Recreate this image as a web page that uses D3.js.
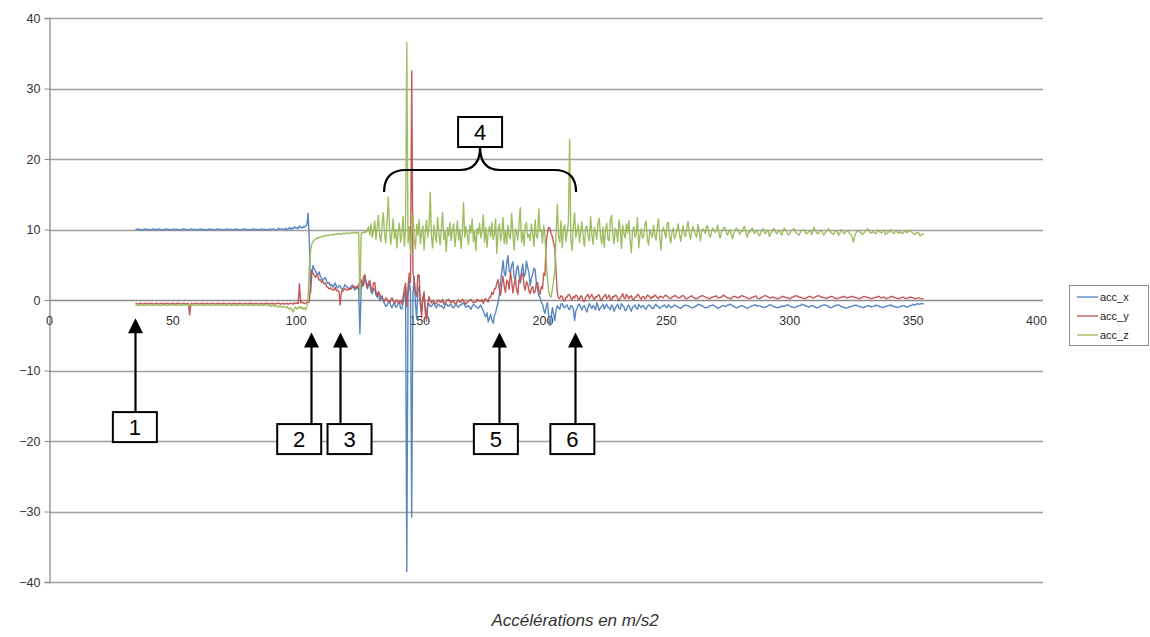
<!DOCTYPE html>
<html>
<head>
<meta charset="utf-8">
<script src="https://cdn.jsdelivr.net/npm/d3@7"></script>
<style>
  html, body { margin: 0; padding: 0; background: #fff; }
  svg { display: block; font-family: "Liberation Sans", Arial, sans-serif; }
</style>
</head>
<body>
<svg id="chart" width="1150" height="637"></svg>
<script>
// Sampling: two readings per time unit, starting at t = 35
const startTime = 35;
const timeStep = 0.5;

const accX = [
  10.0,10.0,10.1,10.0,10.0,9.9,10.0,10.0,10.1,10.0,10.0,10.0,9.9,10.0,10.1,10.0,10.0,10.0,10.0,10.1,
  10.0,10.0,9.9,10.0,10.0,10.1,10.0,10.0,10.0,9.9,10.0,10.1,10.0,10.0,10.0,10.0,9.9,10.0,10.0,10.1,
  10.0,10.0,10.0,9.9,10.0,10.1,10.0,10.0,10.0,10.0,9.9,10.0,10.0,10.1,10.0,10.0,10.0,9.9,10.0,10.0,
  10.1,10.0,10.0,10.0,9.9,10.0,10.0,10.1,10.0,10.0,10.0,10.0,9.9,10.0,10.1,10.0,10.0,10.0,10.0,9.9,
  10.0,10.1,10.0,10.0,10.0,9.9,10.0,10.0,10.1,10.0,10.0,10.0,10.0,9.9,10.0,10.1,10.0,10.0,10.0,10.0,
  9.9,10.0,10.1,10.0,10.0,10.0,10.0,9.9,10.0,10.1,10.0,10.0,10.1,10.0,9.9,10.0,10.2,10.0,10.1,10.0,
  10.1,10.0,10.2,9.9,10.1,10.3,10.0,10.2,10.1,10.4,10.2,10.3,10.1,10.5,10.3,10.2,10.4,10.3,10.5,10.6,
  12.3,8.5,1.0,3.6,4.9,4.4,4.1,3.7,3.6,4.0,3.3,3.1,2.8,3.0,3.2,2.7,2.3,2.5,2.0,2.2,
  1.8,2.1,2.4,1.9,1.7,2.0,2.0,1.6,1.5,1.8,2.2,1.9,1.8,1.5,1.6,2.0,2.1,1.7,1.4,1.8,
  1.9,1.6,-4.8,1.5,2.5,2.0,3.2,2.4,1.6,2.1,2.3,1.2,0.9,1.6,1.5,0.7,0.4,0.9,-0.1,0.3,
  0.6,-0.2,-0.5,-0.9,-0.8,-0.3,-0.2,-0.8,-1.1,-0.6,-0.4,-1.0,-0.9,-0.5,-0.3,-1.2,-1.3,-0.4,0.6,1.8,
  -38.5,0.5,2.6,1.2,-30.8,0.8,3.3,-0.5,-2.7,1.4,1.9,-0.6,-1.6,0.3,0.5,-1.2,-2.2,-0.8,-0.5,-0.9,
  -0.9,-0.6,-0.4,-0.8,-1.1,-0.7,-0.6,-0.9,-0.8,-1.0,-1.2,-0.7,-0.5,-0.8,-0.9,-0.6,-0.7,-1.0,-1.1,-0.8,
  -0.6,-0.9,-1.0,-0.7,-0.7,-0.5,-0.4,-0.8,-1.0,-0.9,-0.8,-1.1,-1.3,-0.9,-0.6,-0.8,-0.9,-1.1,-1.2,-0.9,
  -0.7,-1.2,-1.5,-2.1,-2.4,-1.8,-3.1,-2.6,-2.0,-2.9,-3.3,-2.2,-1.8,-1.0,-0.4,0.8,2.6,4.0,5.6,3.8,
  3.4,5.2,6.3,4.1,3.9,5.0,5.4,3.2,2.9,4.4,4.9,3.6,2.4,4.1,5.1,3.3,3.7,5.5,4.6,3.9,
  2.0,3.1,3.6,4.5,4.3,2.4,1.5,0.6,0.4,-0.3,-0.6,-1.4,-1.9,-0.9,-0.4,-2.2,-3.6,-2.5,-1.1,-2.0,
  -2.9,-1.5,-0.8,-1.1,-1.3,-0.6,-0.5,-1.0,-1.1,-0.8,-0.7,-1.2,-1.4,-0.8,-0.9,-1.3,-2.9,-1.6,-1.2,-0.7,
  -0.6,-1.1,-1.4,-0.9,-0.8,-1.3,-1.7,-1.0,-0.5,-0.9,-1.2,-0.8,-1.0,-1.4,-0.4,-0.8,-1.5,-1.1,-0.9,-0.6,
  -1.3,-0.9,-0.6,-1.0,-1.1,-1.4,-0.7,-0.9,-1.6,-1.2,-0.8,-0.6,-1.2,-1.3,-0.5,-0.8,-1.0,-1.5,-1.4,-0.9,
  -0.7,-1.2,-1.6,-1.0,-0.9,-0.7,-1.2,-1.3,-0.6,-0.9,-1.1,-0.8,-0.8,-1.2,-1.3,-0.9,-0.7,-0.8,-1.0,-1.2,
  -1.2,-0.8,-0.6,-0.9,-0.9,-1.2,-1.1,-0.9,-0.8,-0.7,-1.0,-1.1,-0.7,-0.8,-1.1,-1.0,-0.9,-0.7,-0.8,-0.9,
  -1.0,-1.1,-1.2,-1.0,-0.9,-0.8,-0.7,-0.8,-0.8,-0.9,-1.0,-1.1,-1.1,-1.0,-0.9,-0.8,-0.6,-0.7,-0.7,-0.8,
  -0.9,-1.0,-1.1,-1.1,-1.0,-0.9,-0.8,-0.8,-0.7,-0.8,-0.9,-1.0,-1.2,-1.1,-1.0,-0.9,-0.8,-0.8,-0.9,-0.9,
  -0.7,-0.7,-0.6,-0.7,-0.8,-0.9,-1.0,-1.1,-1.1,-1.0,-0.9,-0.8,-0.8,-0.9,-1.0,-1.1,-1.2,-1.1,-1.0,-0.9,
  -0.8,-0.8,-0.7,-0.7,-0.9,-0.8,-0.8,-0.9,-1.0,-1.0,-1.1,-1.0,-0.9,-0.8,-0.7,-0.7,-0.8,-0.9,-1.0,-1.0,
  -1.1,-1.1,-1.0,-1.0,-0.8,-0.9,-0.9,-0.8,-0.7,-0.7,-0.8,-0.9,-1.0,-1.0,-1.1,-1.0,-0.9,-0.9,-0.8,-0.8,
  -0.6,-0.7,-0.7,-0.8,-0.9,-0.9,-1.0,-0.9,-0.8,-0.8,-0.9,-1.0,-1.1,-1.1,-1.0,-0.9,-0.8,-0.8,-0.7,-0.7,
  -0.8,-0.8,-1.0,-1.0,-1.1,-1.0,-0.9,-0.8,-0.8,-0.7,-0.7,-0.8,-0.9,-1.0,-1.0,-1.1,-1.2,-1.1,-1.0,-1.0,
  -0.9,-0.9,-0.8,-0.8,-0.7,-0.8,-0.9,-0.9,-1.0,-1.0,-1.1,-1.0,-0.9,-0.9,-0.8,-0.8,-1.0,-0.9,-0.9,-0.9,
  -0.7,-0.8,-0.8,-0.9,-1.0,-1.0,-1.1,-1.0,-0.9,-0.9,-0.8,-0.8,-0.7,-0.8,-0.9,-0.9,-1.0,-1.0,-1.1,-1.0,
  -0.9,-0.9,-0.8,-0.8,-0.9,-1.0,-1.0,-0.9,-0.8,-0.8,-0.6,-0.7,-0.7,-0.6,-0.5,-0.6,-0.6,-0.5,-0.5,-0.6
];

const accY = [
  -0.5,-0.5,-0.6,-0.5,-0.5,-0.5,-0.6,-0.5,-0.5,-0.5,-0.6,-0.5,-0.5,-0.5,-0.5,-0.6,-0.5,-0.5,-0.5,-0.6,
  -0.5,-0.5,-0.5,-0.6,-0.5,-0.5,-0.5,-0.5,-0.6,-0.5,-0.5,-0.5,-0.6,-0.5,-0.5,-0.5,-0.5,-0.6,-0.5,-0.5,
  -0.5,-0.6,-0.5,-0.5,-2.1,-0.5,-0.5,-0.6,-0.5,-0.5,-0.5,-0.5,-0.6,-0.5,-0.5,-0.5,-0.6,-0.5,-0.5,-0.5,
  -0.6,-0.5,-0.5,-0.5,-0.5,-0.6,-0.5,-0.5,-0.5,-0.6,-0.5,-0.5,-0.5,-0.5,-0.6,-0.5,-0.5,-0.5,-0.6,-0.5,
  -0.5,-0.5,-0.6,-0.5,-0.5,-0.5,-0.5,-0.6,-0.5,-0.5,-0.5,-0.6,-0.5,-0.5,-0.5,-0.5,-0.6,-0.5,-0.5,-0.5,
  -0.6,-0.5,-0.5,-0.5,-0.6,-0.5,-0.5,-0.5,-0.5,-0.6,-0.5,-0.5,-0.5,-0.6,-0.5,-0.5,-0.5,-0.5,-0.6,-0.5,
  -0.5,-0.6,-0.5,-0.5,-0.6,-0.5,-0.5,-0.5,-0.6,-0.4,-0.5,-0.4,-0.5,2.3,-0.4,-0.3,-0.4,-0.5,-0.4,-0.3,
  -0.4,-0.2,2.1,4.3,3.8,3.5,3.2,3.6,3.3,2.8,2.9,2.5,2.7,2.3,2.4,1.9,1.8,1.6,1.7,1.5,
  1.5,1.4,1.8,1.3,1.4,1.2,-0.7,1.3,1.2,1.5,1.6,1.4,1.4,1.7,1.5,1.6,1.8,2.0,1.7,1.9,
  1.6,2.2,2.4,2.9,2.0,3.3,3.6,2.6,1.8,2.5,2.8,1.7,1.2,2.4,2.5,1.1,0.6,1.2,0.9,0.4,
  0.2,0.0,-0.2,0.3,0.1,-0.2,-0.4,0.0,0.3,-0.1,-0.5,-0.2,0.0,-0.4,-0.3,-0.1,-0.6,0.4,1.5,2.4,
  -1.0,1.8,3.8,2.5,32.5,3.9,2.8,1.1,0.5,3.6,3.5,-0.4,-2.5,0.3,1.2,-1.8,-3.0,-0.6,0.5,-0.2,
  -0.4,-0.1,-0.2,-0.5,-0.5,-0.2,0.0,-0.3,-0.3,0.1,-0.6,-0.4,-0.2,0.0,0.1,-0.3,-0.4,-0.1,-0.2,-0.5,
  -0.5,-0.2,0.0,-0.3,-0.3,0.1,-0.1,-0.4,-0.6,-0.3,-0.2,0.0,0.1,-0.2,-0.4,-0.3,-0.3,0.1,0.0,-0.2,
  -0.2,0.1,-0.5,0.0,0.2,-0.1,-0.3,0.4,0.4,1.1,0.8,1.6,1.6,2.4,2.9,1.5,0.7,2.2,3.4,1.9,
  1.1,2.8,2.6,1.5,4.0,2.7,1.0,2.2,3.1,1.4,0.8,2.9,2.7,3.6,3.8,2.0,1.4,2.6,2.3,1.3,
  0.9,1.7,1.9,1.0,1.2,2.3,2.5,1.4,0.8,1.9,1.6,3.8,3.5,8.2,9.5,10.3,10.2,9.4,9.0,8.1,
  7.4,4.0,1.0,0.3,0.2,0.6,0.5,-0.1,-0.1,0.4,0.4,0.8,0.7,0.2,0.0,0.5,0.3,0.7,0.6,0.1,
  0.1,0.6,0.5,-0.2,-0.2,0.4,0.6,0.8,0.2,0.5,0.8,0.3,0.0,0.5,0.4,0.7,0.7,0.1,-0.1,0.4,
  0.5,0.8,0.2,0.4,0.7,0.1,0.0,0.5,0.4,0.7,0.6,0.2,-0.1,0.3,0.5,0.9,0.3,0.2,0.8,0.5,
  0.2,0.5,0.6,0.1,0.0,0.4,0.4,0.8,0.7,0.3,0.1,0.5,0.5,0.2,0.3,0.7,0.6,0.4,0.2,0.5,
  0.4,0.7,0.6,0.3,0.2,0.5,0.5,0.4,0.3,0.6,0.7,0.5,0.4,0.2,0.2,0.4,0.5,0.6,0.6,0.4,
  0.3,0.3,0.4,0.6,0.6,0.5,0.2,0.2,0.3,0.4,0.5,0.6,0.4,0.3,0.2,0.2,0.3,0.4,0.5,0.6,
  0.6,0.5,0.4,0.3,0.3,0.2,0.2,0.4,0.4,0.5,0.5,0.6,0.3,0.3,0.4,0.4,0.6,0.7,0.5,0.4,
  0.3,0.3,0.2,0.2,0.4,0.5,0.5,0.4,0.3,0.4,0.4,0.6,0.6,0.5,0.5,0.3,0.3,0.2,0.2,0.3,
  0.4,0.4,0.5,0.6,0.3,0.2,0.2,0.3,0.4,0.5,0.6,0.6,0.5,0.4,0.3,0.3,0.4,0.4,0.3,0.3,
  0.2,0.2,0.3,0.3,0.5,0.5,0.4,0.4,0.3,0.3,0.2,0.2,0.4,0.4,0.5,0.6,0.6,0.5,0.4,0.4,
  0.3,0.3,0.2,0.2,0.3,0.4,0.5,0.5,0.4,0.3,0.3,0.4,0.5,0.6,0.6,0.5,0.4,0.4,0.3,0.3,
  0.2,0.3,0.4,0.4,0.5,0.5,0.3,0.3,0.2,0.2,0.3,0.3,0.4,0.4,0.5,0.5,0.3,0.3,0.4,0.4,
  0.5,0.5,0.4,0.4,0.3,0.3,0.2,0.2,0.3,0.3,0.5,0.5,0.4,0.4,0.3,0.3,0.2,0.2,0.3,0.3,
  0.4,0.4,0.5,0.5,0.3,0.3,0.4,0.4,0.2,0.2,0.3,0.3,0.5,0.5,0.4,0.4,0.3,0.3,0.2,0.2,
  0.3,0.3,0.4,0.4,0.2,0.2,0.3,0.3,0.4,0.4,0.3,0.3,0.2,0.2,0.3,0.3,0.2,0.2,0.2,0.2
];

const accZ = [
  -0.7,-0.7,-0.7,-0.8,-0.7,-0.7,-0.7,-0.7,-0.8,-0.7,-0.7,-0.7,-0.7,-0.7,-0.8,-0.7,-0.7,-0.7,-0.7,-0.7,
  -0.8,-0.7,-0.7,-0.7,-0.7,-0.7,-0.8,-0.7,-0.7,-0.7,-0.7,-0.7,-0.7,-0.8,-0.7,-0.7,-0.7,-0.7,-0.8,-0.7,
  -0.7,-0.7,-0.7,-0.7,-0.8,-0.7,-0.7,-0.7,-0.7,-0.7,-0.8,-0.7,-0.7,-0.7,-0.7,-0.8,-0.7,-0.7,-0.7,-0.7,
  -0.7,-0.8,-0.7,-0.7,-0.7,-0.7,-0.7,-0.8,-0.7,-0.7,-0.7,-0.7,-0.8,-0.7,-0.7,-0.7,-0.7,-0.7,-0.8,-0.7,
  -0.7,-0.7,-0.8,-0.7,-0.7,-0.7,-0.7,-0.7,-0.8,-0.7,-0.7,-0.7,-0.8,-0.7,-0.7,-0.7,-0.8,-0.7,-0.7,-0.7,
  -0.7,-0.8,-0.7,-0.7,-0.8,-0.7,-0.7,-0.8,-0.7,-0.8,-0.9,-0.7,-0.8,-0.9,-0.8,-0.9,-1.0,-0.8,-0.9,-1.0,
  -0.9,-1.0,-1.1,-0.9,-1.2,-1.3,-1.1,-1.5,-1.7,-1.2,-1.0,-1.3,-1.1,-0.9,-1.2,-1.0,-1.3,-1.1,-1.4,-0.9,
  0.2,4.5,7.0,7.9,8.3,8.5,8.6,8.8,8.7,8.9,8.9,9.0,9.1,9.0,9.1,9.2,9.1,9.2,9.2,9.3,
  9.2,9.3,9.3,9.4,9.3,9.4,9.4,9.3,9.4,9.5,9.4,9.5,9.5,9.4,9.5,9.5,9.6,9.5,9.5,9.6,
  9.5,9.6,0.4,9.5,9.6,9.5,9.7,9.6,9.8,10.4,9.2,10.8,8.9,9.7,11.2,8.6,10.3,12.0,9.1,8.3,
  10.6,12.4,9.2,8.1,11.0,14.6,10.2,7.9,9.6,11.5,8.7,10.0,7.4,9.8,10.9,8.2,9.4,11.8,7.6,9.9,
  36.5,8.1,10.4,6.6,9.5,12.3,8.8,7.3,10.7,9.2,11.4,8.0,9.6,10.5,7.1,9.8,11.3,8.9,10.2,15.3,
  9.0,7.4,10.6,9.3,8.2,11.7,9.5,7.8,10.1,12.4,8.6,9.7,6.8,10.3,9.1,11.0,8.4,9.9,10.8,7.6,
  9.4,11.2,8.5,10.0,7.3,9.6,13.8,8.9,10.4,9.2,7.9,10.6,9.5,11.5,8.3,9.8,7.0,10.2,9.4,10.9,
  8.8,9.6,12.1,8.2,10.3,7.5,9.7,10.4,9.0,11.0,8.6,9.3,11.5,6.6,9.9,10.8,8.4,9.5,11.7,8.0,
  9.8,7.9,10.6,9.1,8.7,12.3,9.4,7.1,10.1,9.6,8.5,10.9,13.1,8.2,9.7,7.7,10.5,11.0,8.9,9.3,
  8.4,10.8,9.5,7.6,11.4,9.0,8.8,12.9,9.7,10.0,8.1,10.6,9.2,5.5,3.2,1.2,0.6,0.4,1.5,2.8,
  4.0,9.5,13.5,9.1,8.2,11.2,7.4,10.1,10.6,8.3,9.6,11.0,22.8,8.5,7.0,10.4,12.4,8.9,9.8,10.7,
  8.2,9.7,11.1,8.8,7.6,10.3,10.5,9.0,8.4,11.8,9.3,7.9,10.3,9.6,8.6,10.9,11.6,9.1,8.0,10.4,
  7.5,9.8,10.9,8.7,8.4,11.4,12.0,9.2,8.0,10.2,9.6,8.3,11.4,9.9,7.3,10.6,9.4,8.8,10.8,9.5,
  11.3,8.4,6.7,9.9,10.4,8.9,9.5,11.7,7.4,9.2,10.1,8.8,9.0,10.7,11.2,8.6,7.8,10.0,9.4,8.9,
  10.6,9.3,8.5,10.2,11.5,9.0,7.1,9.8,10.3,9.5,8.8,10.9,11.0,9.1,8.1,9.7,10.2,8.7,9.2,10.0,
  10.8,9.4,8.3,9.6,10.5,9.2,9.0,10.3,11.1,9.5,8.6,9.8,10.4,9.7,9.3,8.9,10.7,9.9,8.4,9.6,
  10.1,9.8,9.4,10.5,10.5,9.2,8.9,9.7,10.2,9.9,9.6,10.0,10.6,9.4,8.8,9.6,9.9,10.3,10.3,9.5,
  9.2,9.8,10.0,9.3,8.7,9.5,9.8,10.2,10.1,9.6,9.3,9.8,9.7,10.3,10.4,9.4,8.9,9.7,9.6,9.9,
  10.2,9.7,9.4,9.9,9.8,9.3,9.1,9.6,10.0,10.1,9.5,9.4,9.9,9.7,9.0,9.5,9.7,10.1,10.1,9.6,
  9.4,9.7,9.8,9.5,9.2,9.8,10.2,9.9,9.6,9.3,9.3,9.7,9.9,10.0,10.1,9.6,9.5,9.3,9.2,9.6,
  9.8,9.9,10.0,9.6,9.4,9.5,9.7,9.9,9.3,9.6,10.3,9.9,9.6,9.4,9.5,9.8,9.9,9.5,9.2,9.5,
  9.7,9.9,10.1,9.8,9.5,9.4,9.3,9.7,9.8,9.6,9.2,9.5,10.0,9.8,9.4,9.5,9.7,9.8,9.7,9.4,
  9.3,8.9,8.2,9.0,9.5,9.7,9.9,9.6,9.6,9.3,9.4,9.6,9.8,10.0,10.1,9.7,9.5,9.6,9.7,9.5,
  9.4,9.6,9.9,9.7,9.6,9.5,9.8,9.9,9.3,9.4,9.7,9.6,10.0,9.8,9.5,9.4,9.8,9.7,9.6,9.5,
  9.7,9.5,9.4,9.7,9.8,9.6,9.6,9.8,9.9,9.7,9.5,9.4,9.3,9.5,9.6,9.5,9.1,9.2,9.4,9.3
];

const seriesNames = ["acc_x", "acc_y", "acc_z"];
const seriesColors = ["#4f81bd", "#c0504d", "#9bbb59"];
const xTicks = [0, 50, 100, 150, 200, 250, 300, 350, 400];
const yTicks = [-40, -30, -20, -10, 0, 10, 20, 30, 40];
const chartTitle = "Accélérations en m/s2";

// Numbered callouts: label, time of the pointed event, arrow tip / box top (m/s2), box centre time
const callouts = [
  { label: "1", t: 34.8,  tip: -2.6, boxTop: -15.9, boxT: 34.8 },
  { label: "2", t: 106.2, tip: -4.6, boxTop: -17.6, boxT: 101.4 },
  { label: "3", t: 117.9, tip: -4.6, boxTop: -17.6, boxT: 121.8 },
  { label: "5", t: 182.3, tip: -4.6, boxTop: -17.6, boxT: 181.1 },
  { label: "6", t: 213.2, tip: -4.6, boxTop: -17.6, boxT: 212.1 }
];
// Brace grouping the phase labelled 4
const braceLabel = "4";
const braceSpan = [135.8, 213.6];

const svg = d3.select("#chart");

const x = d3.scaleLinear().domain([0, 400]).range([49, 1036]);
const y = d3.scaleLinear().domain([-40, 40]).range([582, 18]);

// Horizontal gridlines
svg.append("g")
  .selectAll("line")
  .data(yTicks.filter(v => v !== 0))
  .join("line")
  .attr("x1", x(0)).attr("x2", 1043)
  .attr("y1", d => Math.round(y(d)) + 0.5).attr("y2", d => Math.round(y(d)) + 0.5)
  .attr("stroke", "#a0a0a0").attr("stroke-width", 1.3);

// Y axis
const yAxis = svg.append("g")
  .attr("transform", `translate(${x(0) + 0.5},0)`)
  .call(d3.axisLeft(y).tickValues(yTicks).tickSize(5).tickPadding(4).tickFormat(d3.format("d")));
yAxis.select(".domain").attr("stroke", "#8c8c8c").attr("stroke-width", 1.3);
yAxis.selectAll(".tick line").attr("stroke", "#8c8c8c");
yAxis.selectAll(".tick text")
  .attr("fill", "#333").style("font-size", "12.5px")
  .style("font-family", "'Liberation Sans', Arial, sans-serif");

// X axis drawn along zero
const xAxis = svg.append("g")
  .attr("transform", `translate(0,${Math.round(y(0)) + 0.5})`)
  .call(d3.axisBottom(x).tickValues(xTicks).tickSize(0).tickPadding(16).tickFormat(d3.format("d")));
xAxis.select(".domain").attr("stroke", "#8c8c8c").attr("stroke-width", 1.3)
  .attr("d", `M${x(0)},0H1043`);
xAxis.selectAll(".tick text")
  .attr("fill", "#333").style("font-size", "12.5px")
  .style("font-family", "'Liberation Sans', Arial, sans-serif");

// Series lines, acc_z drawn last so it sits on top
const seriesValues = [accX, accY, accZ];
const line = d3.line()
  .x((d, i) => x(startTime + i * timeStep))
  .y(d => y(d));

seriesValues.forEach((vals, k) => {
  svg.append("path")
    .datum(vals)
    .attr("d", line)
    .attr("fill", "none")
    .attr("stroke", seriesColors[k])
    .attr("stroke-width", 1.4)
    .attr("stroke-linejoin", "round")
    .attr("opacity", 0.95);
});

// Legend
const legend = svg.append("g").attr("transform", "translate(1069,285)");
legend.append("rect")
  .attr("x", 0.5).attr("y", 0.5).attr("width", 79).attr("height", 60)
  .attr("fill", "#fff").attr("stroke", "#8c8c8c");
seriesNames.forEach((name, k) => {
  const ly = 12 + k * 19;
  legend.append("line")
    .attr("x1", 8).attr("x2", 29).attr("y1", ly).attr("y2", ly)
    .attr("stroke", seriesColors[k]).attr("stroke-width", 1.3);
  legend.append("text")
    .attr("x", 31).attr("y", ly + 4)
    .attr("fill", "#222").style("font-size", "11px")
    .text(name);
});

// Title below the plot
svg.append("text")
  .attr("x", 575).attr("y", 626)
  .attr("text-anchor", "middle")
  .attr("fill", "#333")
  .style("font-size", "17px").style("font-style", "italic")
  .text(chartTitle);

// Callout arrows and numbered boxes
const ann = svg.append("g");
const boxW = 44, boxH = 30;
callouts.forEach(c => {
  const ax = Math.round(x(c.t)) + 0.5;
  const tipY = y(c.tip);
  const bTop = y(c.boxTop);
  ann.append("line")
    .attr("x1", ax).attr("x2", ax)
    .attr("y1", tipY + 12).attr("y2", bTop)
    .attr("stroke", "#000").attr("stroke-width", 2.2);
  ann.append("path")
    .attr("d", `M${ax},${tipY} L${ax - 7.5},${tipY + 15} L${ax + 7.5},${tipY + 15} Z`)
    .attr("fill", "#000");
  const bx = x(c.boxT);
  ann.append("rect")
    .attr("x", bx - boxW / 2).attr("y", bTop)
    .attr("width", boxW).attr("height", boxH)
    .attr("fill", "#fff").attr("stroke", "#000").attr("stroke-width", 2);
  ann.append("text")
    .attr("x", bx).attr("y", bTop + boxH / 2 + 8)
    .attr("text-anchor", "middle")
    .attr("fill", "#000").style("font-size", "22px")
    .text(c.label);
});

// Brace for phase 4
const b0 = x(braceSpan[0]), b1 = x(braceSpan[1]);
const bm = (b0 + b1) / 2;
const bTopY = 147, bMidY = 170, bEndY = 192;
ann.append("path")
  .attr("d", `M${b0},${bEndY} Q${b0},${bMidY} ${b0 + 22},${bMidY} L${bm - 20},${bMidY} Q${bm},${bMidY} ${bm},${bTopY} Q${bm},${bMidY} ${bm + 20},${bMidY} L${b1 - 22},${bMidY} Q${b1},${bMidY} ${b1},${bEndY}`)
  .attr("fill", "none").attr("stroke", "#000").attr("stroke-width", 2.2);
ann.append("rect")
  .attr("x", bm - boxW / 2).attr("y", bTopY - boxH)
  .attr("width", boxW).attr("height", boxH)
  .attr("fill", "#fff").attr("stroke", "#000").attr("stroke-width", 2);
ann.append("text")
  .attr("x", bm).attr("y", bTopY - boxH / 2 + 8)
  .attr("text-anchor", "middle")
  .attr("fill", "#000").style("font-size", "22px")
  .text(braceLabel);
</script>
</body>
</html>
